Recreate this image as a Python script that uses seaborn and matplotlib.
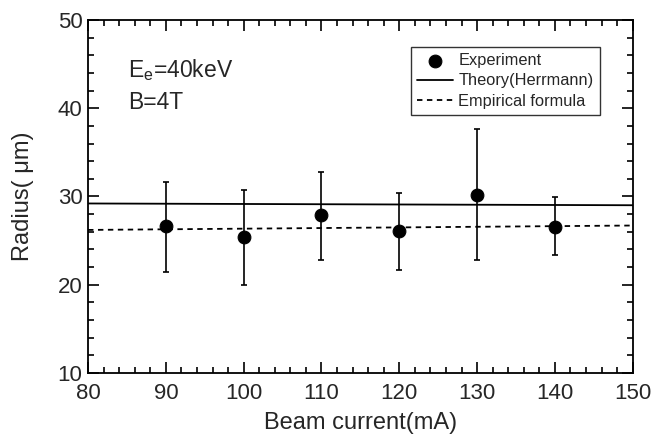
import numpy as np
import pandas as pd
import matplotlib
matplotlib.use("Agg")
import matplotlib.pyplot as plt
import seaborn as sns
from matplotlib.ticker import MultipleLocator

# ---------------------------
# Data
# ---------------------------
beam_current = [90, 100, 110, 120, 130, 140]
radius = [26.6, 25.4, 27.9, 26.1, 30.2, 26.5]
err_low = [21.4, 20.0, 22.8, 21.7, 22.8, 23.3]
err_high = [31.6, 30.7, 32.8, 30.4, 37.7, 29.9]

line_x = [80, 150]
theory_y = [29.2, 29.0]
empirical_y = [26.2, 26.7]

df = pd.DataFrame({"current": beam_current, "radius": radius})

# ---------------------------
# Style
# ---------------------------
sns.set_style("ticks")
plt.rcParams["font.family"] = ["Liberation Sans", "DejaVu Sans"]
plt.rcParams["mathtext.fontset"] = "custom"
plt.rcParams["mathtext.rm"] = "Liberation Sans"
plt.rcParams["mathtext.it"] = "Liberation Sans"

fig, ax = plt.subplots(figsize=(6.57, 4.36), dpi=100)
fig.subplots_adjust(left=0.134, right=0.963, bottom=0.145, top=0.954)

# error bars
yerr = [np.array(radius) - np.array(err_low), np.array(err_high) - np.array(radius)]
ax.errorbar(beam_current, radius, yerr=yerr, fmt="none", ecolor="black",
            elinewidth=1.2, capsize=2.5, capthick=1.2, zorder=2)

sns.scatterplot(data=df, x="current", y="radius", color="black", s=85,
                edgecolor="black", ax=ax, zorder=3, label="Experiment")
sns.lineplot(x=line_x, y=theory_y, color="black", linewidth=1.3, ax=ax,
             label="Theory(Herrmann)")
sns.lineplot(x=line_x, y=empirical_y, color="black", linewidth=1.3,
             linestyle=(0, (3, 2.5)), ax=ax, label="Empirical formula")

ax.set_xlim(80, 150)
ax.set_ylim(10, 50)
ax.xaxis.set_major_locator(MultipleLocator(10))
ax.xaxis.set_minor_locator(MultipleLocator(2))
ax.yaxis.set_major_locator(MultipleLocator(10))
ax.yaxis.set_minor_locator(MultipleLocator(2))
ax.tick_params(which="both", direction="in", top=True, right=True,
               width=1.2, color="black", labelsize=16)
ax.tick_params(which="major", length=8)
ax.tick_params(which="minor", length=4)
ax.tick_params(axis="x", which="major", pad=7)
ax.tick_params(axis="y", which="major", pad=4)
for spine in ax.spines.values():
    spine.set_linewidth(1.3)
    spine.set_color("black")

ax.set_xlabel("Beam current(mA)", fontsize=17, labelpad=6)
ax.set_ylabel("Radius( μm)", fontsize=17, labelpad=17)

ax.text(85.1, 43.5, "E$_\\mathrm{e}$=40keV", fontsize=16.5)
ax.text(85.1, 39.9, "B=4T", fontsize=16.5)

leg = ax.legend(loc="upper right", bbox_to_anchor=(0.94, 0.925), fontsize=11.8,
                frameon=True, fancybox=False, edgecolor="black",
                handlelength=2.2, handletextpad=0.3, borderpad=0.4,
                labelspacing=0.32, borderaxespad=0)
leg.get_frame().set_linewidth(1.0)

fig.savefig("out.png", dpi=100)
